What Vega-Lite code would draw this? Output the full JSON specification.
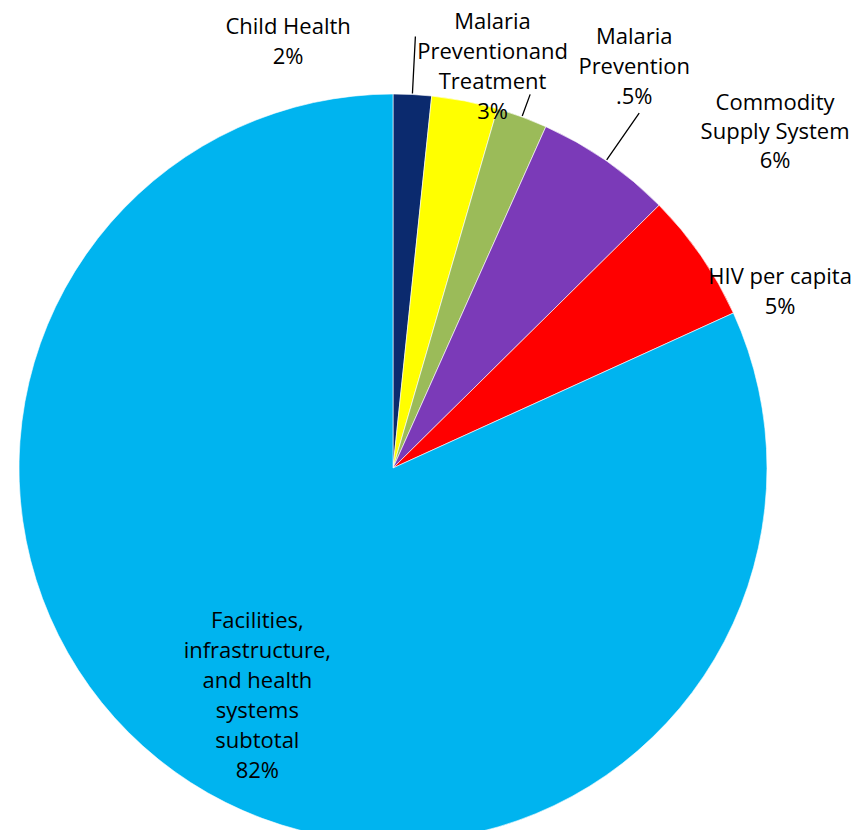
{
  "$schema": "https://vega.github.io/schema/vega-lite/v6.json",
  "width": 786,
  "height": 724,
  "autosize": {"type": "none"},
  "padding": {"left": 0, "top": 106, "right": 72, "bottom": 0},
  "background": "white",
  "view": {"stroke": null},
  "data": {
    "values": [
      {"cat": "Child Health", "ord": 1, "value": 1.65, "label": ["Child Health", "2%"]},
      {"cat": "Malaria Prevention and Treatment", "ord": 2, "value": 2.85, "label": ["Malaria", "Preventionand", "Treatment", "3%"]},
      {"cat": "Malaria Prevention", "ord": 3, "value": 2.2, "label": ["Malaria", "Prevention", ".5%"]},
      {"cat": "Commodity Supply System", "ord": 4, "value": 5.9, "label": ["Commodity", "Supply System", "6%"]},
      {"cat": "HIV per capita", "ord": 5, "value": 5.6, "label": ["HIV per capita", "5%"]},
      {"cat": "Facilities, infrastructure, and health systems subtotal", "ord": 6, "value": 81.8, "label": ["Facilities,", "infrastructure,", "and health", "systems", "subtotal", "82%"]}
    ]
  },
  "encoding": {
    "theta": {"field": "value", "type": "quantitative", "stack": true},
    "order": {"field": "ord", "type": "quantitative"},
    "detail": {"field": "cat", "type": "nominal"}
  },
  "layer": [
    {
      "mark": {"type": "arc", "outerRadius": 374, "stroke": "#ffffff", "strokeWidth": 1, "strokeOpacity": 0.6},
      "encoding": {
        "color": {
          "field": "cat",
          "type": "nominal",
          "scale": {
            "domain": ["Child Health", "Malaria Prevention and Treatment", "Malaria Prevention", "Commodity Supply System", "HIV per capita", "Facilities, infrastructure, and health systems subtotal"],
            "range": ["#0B2A6E", "#FFFF00", "#9BBB59", "#7B3AB8", "#FF0000", "#00B4EF"]
          },
          "legend": null
        }
      }
    },
    {
      "mark": {"type": "arc", "innerRadius": 375, "outerRadius": 432, "padAngle": 3, "fill": "transparent", "stroke": "black", "strokeWidth": 1.3},
      "encoding": {
        "strokeOpacity": {"condition": {"test": "datum.ord == 1 || datum.ord == 4", "value": 1}, "value": 0}
      }
    },
    {
      "mark": {"type": "arc", "innerRadius": 375, "outerRadius": 398, "padAngle": 3, "fill": "transparent", "stroke": "black", "strokeWidth": 1.3},
      "encoding": {
        "strokeOpacity": {"condition": {"test": "datum.ord == 3", "value": 1}, "value": 0}
      }
    },
    {
      "mark": {"type": "text", "radius": 427, "dx": -127, "dy": -15, "align": "center", "baseline": "middle", "font": "Open Sans", "fontSize": 22, "lineHeight": 30, "color": "black"},
      "encoding": {"text": {"condition": {"test": "datum.ord == 1", "field": "label", "type": "nominal"}, "value": ""}}
    },
    {
      "mark": {"type": "text", "radius": 409, "dx": 21, "dy": -45, "align": "center", "baseline": "middle", "font": "Open Sans", "fontSize": 22, "lineHeight": 30, "color": "black"},
      "encoding": {"text": {"condition": {"test": "datum.ord == 2", "field": "label", "type": "nominal"}, "value": ""}}
    },
    {
      "mark": {"type": "text", "radius": 427, "dx": 94, "dy": -30, "align": "center", "baseline": "middle", "font": "Open Sans", "fontSize": 22, "lineHeight": 30, "color": "black"},
      "encoding": {"text": {"condition": {"test": "datum.ord == 3", "field": "label", "type": "nominal"}, "value": ""}}
    },
    {
      "mark": {"type": "text", "radius": 409, "dx": 149, "dy": -29, "align": "center", "baseline": "middle", "font": "Open Sans", "fontSize": 22, "lineHeight": 29, "color": "black"},
      "encoding": {"text": {"condition": {"test": "datum.ord == 4", "field": "label", "type": "nominal"}, "value": ""}}
    },
    {
      "mark": {"type": "text", "radius": 311, "dx": 131, "dy": -15, "align": "center", "baseline": "middle", "font": "Open Sans", "fontSize": 22, "lineHeight": 30, "color": "black"},
      "encoding": {"text": {"condition": {"test": "datum.ord == 5", "field": "label", "type": "nominal"}, "value": ""}}
    },
    {
      "mark": {"type": "text", "radius": 271, "dx": 11, "dy": -75, "align": "center", "baseline": "middle", "font": "Open Sans", "fontSize": 22, "lineHeight": 30, "color": "black"},
      "encoding": {"text": {"condition": {"test": "datum.ord == 6", "field": "label", "type": "nominal"}, "value": ""}}
    }
  ]
}
